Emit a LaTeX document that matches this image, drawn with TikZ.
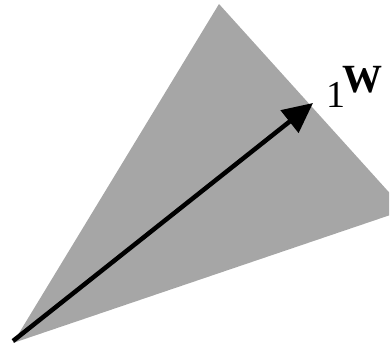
\documentclass[tikz,border=0pt]{standalone}
\usepackage{fontspec}
\setmainfont{Liberation Serif}
\usetikzlibrary{arrows.meta}
\definecolor{conegray}{RGB}{166,166,166}
\tikzstyle{cone} = [
    fill=conegray,
    draw=none
]
\tikzstyle{arrow} = [
    line width=4.5pt,
    -{Triangle[length=30pt,width=28pt]}
]
\tikzstyle{vlabel} = [
    inner sep=0pt,
    anchor=base west,
    font=\fontsize{38}{42}\selectfont
]

\begin{document}
\begin{tikzpicture}[x=1pt,y=-1pt]
\useasboundingbox (0,0) rectangle (390,345);

\begin{scope}
\clip (0,0) rectangle (389,345);
\fill [cone] (13,343) -- (219,4) -- (405,210) -- cycle;
\end{scope}

\coordinate (origin) at (13,341);
\coordinate (tip) at (313,103);

\node (one) [vlabel] at (326,107) {1};
\node (w) [vlabel, font=\fontsize{40}{44}\selectfont\bfseries] at (342,92) {W};

\draw [arrow] (origin) -- (tip);

\end{tikzpicture}
\end{document}
